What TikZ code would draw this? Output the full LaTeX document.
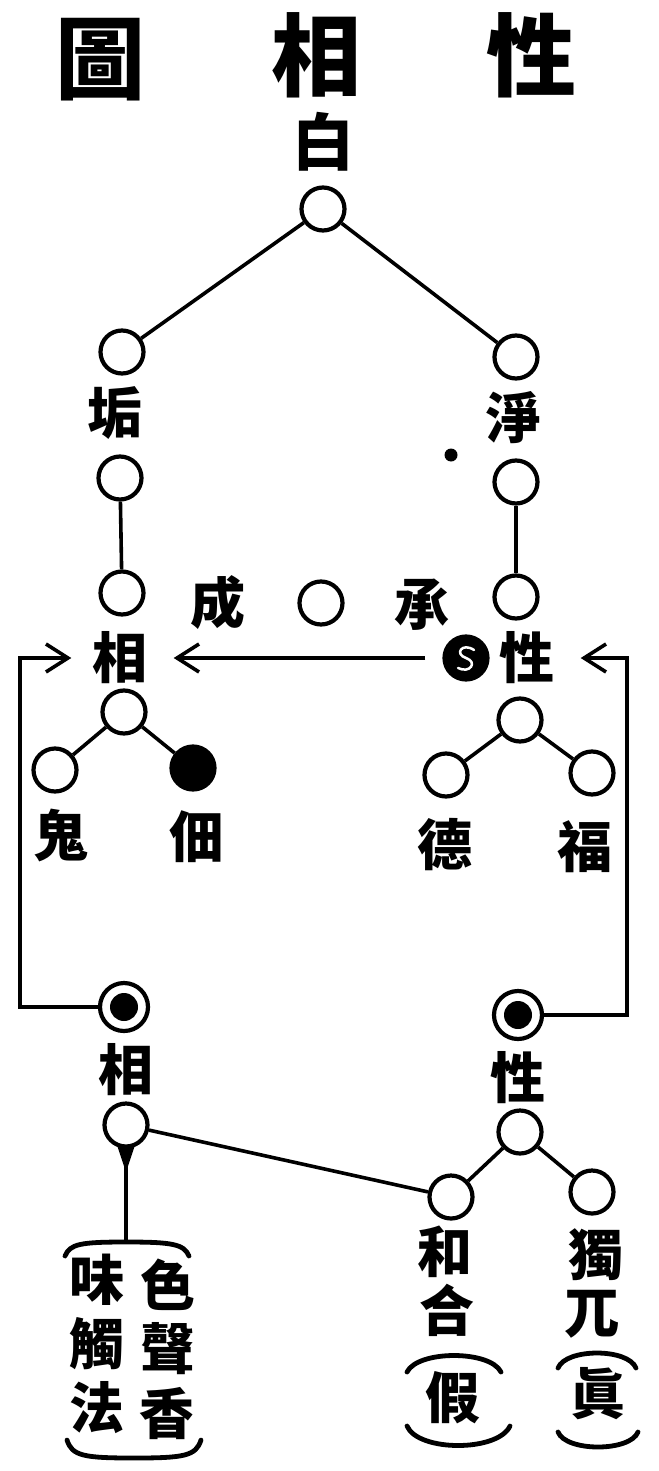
\documentclass[tikz,border=0pt]{standalone}
\usepackage{fontspec}
\newfontfamily\cjk{Noto Sans CJK TC}
\usetikzlibrary{arrows.meta}
\pgfdeclarelayer{edgelayer}
\pgfdeclarelayer{nodelayer}
\pgfsetlayers{edgelayer,nodelayer,main}
\tikzstyle{none}=[inner sep=0pt]
\tikzstyle{ring}=[circle,fill=white,draw=black,line width=4.2,minimum size=43,inner sep=0pt]
\tikzstyle{blot}=[circle,fill=black,draw=black,line width=4.2,minimum size=43,inner sep=0pt]
\tikzstyle{eye}=[circle,fill=white,draw=black,line width=4.2,minimum size=48,inner sep=0pt,path picture={\fill[black] (path picture bounding box.center) circle (14pt);}]
\tikzstyle{speck}=[circle,fill=black,minimum size=13,inner sep=0pt]
\tikzstyle{heading}=[inner sep=0pt,font=\cjk\bfseries\fontsize{90}{90}\selectfont]
\tikzstyle{glyph}=[inner sep=0pt,font=\cjk\bfseries\fontsize{55}{55}\selectfont]
\tikzstyle{link}=[-,line width=3.6]
\tikzstyle{inarrow}=[-{Straight Barb[length=22pt,width=28pt]},line width=3.6]
\tikzstyle{bracket}=[-,line width=4.8,line cap=round]
\tikzstyle{squiggle}=[-,draw=white,line width=2.5,line cap=round]

\begin{document}
\begin{tikzpicture}[x=1pt,y=-1pt]
	\useasboundingbox (0,0) rectangle (658,1471);
	\begin{pgfonlayer}{nodelayer}
		\node [style=heading] (head1) at (100, 60) {圖};
		\node [style=heading] (head2) at (316, 55) {相};
		\node [style=heading] (head3) at (531, 55) {性};

		\node [style=glyph,font=\cjk\bfseries\fontsize{62}{62}\selectfont] (tbai) at (323, 142) {白};
		\node [style=ring] (root) at (323, 209) {};

		\node [style=ring] (gou) at (122, 352) {};
		\node [style=glyph] (tgou) at (115, 413) {垢};
		\node [style=ring] (gou2) at (120, 478) {};
		\node [style=ring] (xiang1) at (122, 593) {};

		\node [style=ring] (jing) at (516, 357) {};
		\node [style=glyph] (tjing) at (514, 418) {淨};
		\node [style=ring] (jing2) at (516, 482) {};
		\node [style=ring] (xing1) at (516, 597) {};

		\node [style=speck] (speck) at (451, 455) {};
		\node [style=glyph] (tcheng) at (218, 603) {成};
		\node [style=ring] (mid) at (321, 603) {};
		\node [style=glyph] (tchengr) at (422, 605) {承};

		\node [style=glyph] (txiang) at (120, 658) {相};
		\node [style=blot] (seal) at (466, 658) {};
		\node [style=glyph] (txing) at (527, 658) {性};

		\node [style=ring] (xiang2) at (124, 712) {};
		\node [style=ring] (gui) at (55, 770) {};
		\node [style=blot] (tian) at (193, 768) {};
		\node [style=glyph] (tgui) at (61, 835) {鬼};
		\node [style=glyph] (ttian) at (197, 837) {佃};

		\node [style=ring] (xing2) at (520, 720) {};
		\node [style=ring] (de) at (446, 775) {};
		\node [style=ring] (fu) at (592, 773) {};
		\node [style=glyph] (tde) at (445, 845) {德};
		\node [style=glyph] (tfu) at (585, 847) {福};

		\node [style=none] (lt) at (20, 658) {};
		\node [style=none] (lb) at (20, 1007) {};
		\node [style=none] (rt) at (627, 658) {};
		\node [style=none] (rb) at (627, 1015) {};

		\node [style=eye] (eyeL) at (124, 1007) {};
		\node [style=glyph] (txiang3) at (126, 1070) {相};
		\node [style=ring] (xiang3) at (126, 1125) {};
		\node [style=none] (stem) at (126, 1243) {};

		\node [style=eye] (eyeR) at (518, 1015) {};
		\node [style=glyph] (txing3) at (518, 1078) {性};
		\node [style=ring] (xing3) at (520, 1132) {};
		\node [style=ring] (he) at (451, 1197) {};
		\node [style=ring] (du) at (592, 1192) {};

		\node [style=glyph] (thehe) at (445, 1252) {和};
		\node [style=glyph] (thhe) at (447, 1310) {合};
		\node [style=glyph] (tjia) at (453, 1398) {假};
		\node [style=glyph] (tdu) at (596, 1255) {獨};
		\node [style=glyph] (twu) at (592, 1314) {兀};
		\node [style=glyph] (tzhen) at (598, 1394) {眞};

		\node [style=glyph] (tse) at (168, 1285) {色};
		\node [style=glyph] (tsheng) at (168, 1349) {聲};
		\node [style=glyph] (txiangx) at (167, 1413) {香};
		\node [style=glyph] (twei) at (97, 1280) {味};
		\node [style=glyph] (tchu) at (97, 1344) {觸};
		\node [style=glyph] (tfa) at (97, 1408) {法};
	\end{pgfonlayer}
	\begin{pgfonlayer}{edgelayer}
		\draw [style=link] (root) to (gou);
		\draw [style=link] (root) to (jing);
		\draw [style=link] (gou2) to (xiang1);
		\draw [style=link] (jing2) to (xing1);
		\draw [style=inarrow, shorten <=17pt, shorten >=26pt] (seal) to (txiang);
		\draw [style=inarrow, shorten >=21pt] (eyeL) -- (lb.center) -- (lt.center) -- (txiang);
		\draw [style=inarrow, shorten >=26pt] (eyeR) -- (rb.center) -- (rt.center) -- (txing);
		\draw [style=link] (xiang2) to (gui);
		\draw [style=link] (xiang2) to (tian);
		\draw [style=link] (xing2) to (de);
		\draw [style=link] (xing2) to (fu);
		\draw [style=link] (xiang3) to (stem.center);
		\fill [black] (116, 1142) -- (136, 1142) -- (126, 1172) -- cycle;
		\draw [style=link] (xiang3) to (he);
		\draw [style=link] (xing3) to (he);
		\draw [style=link] (xing3) to (du);
	\end{pgfonlayer}
	\draw [style=squiggle] (474, 650) .. controls (462, 642) and (454, 654) .. (466, 658) .. controls (478, 662) and (470, 674) .. (458, 668);
	\draw [style=bracket] (65, 1256) .. controls (70, 1244) and (80, 1242) .. (126, 1242) .. controls (172, 1242) and (184, 1244) .. (189, 1256);
	\draw [style=bracket] (67, 1440) .. controls (72, 1456) and (84, 1458) .. (134, 1458) .. controls (184, 1458) and (196, 1456) .. (201, 1440);
	\draw [style=bracket] (407, 1372) .. controls (418, 1350) and (490, 1350) .. (501, 1372);
	\draw [style=bracket] (407, 1426) .. controls (418, 1452) and (498, 1452) .. (510, 1426);
	\draw [style=bracket] (558, 1368) .. controls (566, 1348) and (628, 1348) .. (636, 1368);
	\draw [style=bracket] (558, 1432) .. controls (566, 1452) and (630, 1452) .. (638, 1432);
\end{tikzpicture}
\end{document}
